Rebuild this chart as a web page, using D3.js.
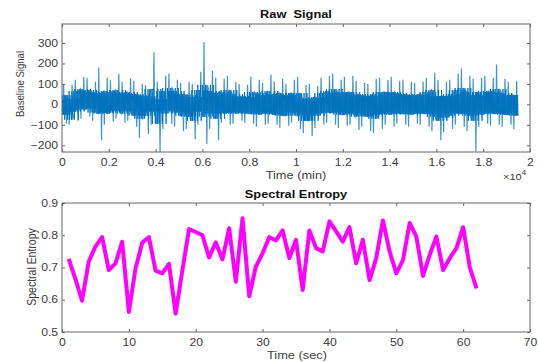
<!DOCTYPE html>
<html>
<head>
<meta charset="utf-8">
<script src="https://cdn.jsdelivr.net/npm/d3@7"></script>
<style>
  body { margin: 0; background: #fff; }
  svg { display: block; font-family: "Liberation Sans", Arial, sans-serif; }
</style>
</head>
<body>
<svg width="538" height="362"></svg>
<script>
// Raw signal, summarised in bins of 250 samples
const binSize = 250;
const sigHi = [100, 95, 120, 135, 130, 110, 180, 130, 120, 150, 110, 125, 115, 100, 95, 255,
  110, 140, 150, 120, 105, 110, 100, 160, 305, 165, 130, 125, 140, 110, 100, 95,
  135, 120, 105, 145, 110, 125, 100, 120, 135, 95, 100, 90, 130, 140, 150, 120,
  135, 140, 115, 105, 100, 125, 130, 120, 135, 115, 120, 110, 105, 110, 130, 155,
  120, 110, 120, 150, 175, 140, 125, 130, 140, 130, 195, 125, 110, 115];
const sigLo = [-95, -100, -80, -70, -60, -80, -175, -100, -85, -70, -90, -80, -110, -165, -145, -100,
  -235, -120, -95, -110, -130, -120, -170, -100, -195, -120, -175, -90, -100, -95, -80, -90,
  -95, -110, -100, -95, -100, -115, -105, -90, -120, -140, -155, -115, -100, -90, -100, -115,
  -105, -100, -125, -110, -130, -140, -120, -100, -110, -95, -100, -110, -95, -100, -110, -130,
  -175, -135, -120, -100, -110, -130, -230, -110, -95, -105, -100, -110, -100, -120];
const coreHi = [45, 25, 65, 75, 70, 60, 55, 65, 60, 70, 55, 60, 50, 45, 40, 75,
  25, 65, 80, 65, 50, 45, 35, 70, 95, 65, 55, 60, 70, 50, 40, 35,
  60, 55, 45, 65, 50, 55, 45, 55, 55, 25, 30, 35, 55, 65, 75, 55,
  60, 60, 50, 45, 40, 50, 60, 60, 60, 55, 50, 45, 45, 50, 60, 70,
  40, 40, 50, 70, 80, 60, 45, 60, 65, 60, 75, 55, 45, 45];
const coreLo = [-50, -75, -35, -25, -20, -40, -45, -45, -40, -30, -45, -35, -55, -70, -55, -35,
  -95, -45, -30, -40, -55, -60, -80, -35, -60, -45, -70, -45, -40, -45, -40, -45,
  -45, -50, -45, -45, -50, -55, -55, -40, -55, -80, -80, -55, -45, -40, -40, -50,
  -50, -45, -60, -55, -60, -70, -50, -45, -50, -45, -45, -50, -45, -45, -45, -60,
  -80, -65, -55, -45, -45, -55, -80, -50, -45, -45, -45, -50, -50, -55];
// flat tail at the end of the recording
const tailT = [19380, 19500];
const tailV = [0, 0];

// Spectral entropy, one value per second
const entropyT = d3.range(1, 63);
const entropyV = [0.727, 0.665, 0.597, 0.718, 0.765, 0.794, 0.692, 0.713, 0.780, 0.562,
  0.697, 0.777, 0.794, 0.690, 0.682, 0.711, 0.557, 0.690, 0.819, 0.810,
  0.800, 0.731, 0.778, 0.725, 0.822, 0.656, 0.853, 0.611, 0.703, 0.744,
  0.794, 0.784, 0.815, 0.729, 0.786, 0.630, 0.815, 0.760, 0.750, 0.843,
  0.812, 0.780, 0.825, 0.713, 0.786, 0.661, 0.729, 0.846, 0.750, 0.682,
  0.723, 0.838, 0.796, 0.674, 0.739, 0.796, 0.692, 0.729, 0.760, 0.825,
  0.700, 0.635];

const topXTicks = [0, 2000, 4000, 6000, 8000, 10000, 12000, 14000, 16000, 18000, 20000];
const topXLabels = ["0", "0.2", "0.4", "0.6", "0.8", "1", "1.2", "1.4", "1.6", "1.8", "2"];
const topYTicks = [-200, -100, 0, 100, 200, 300];
const botXTicks = [0, 10, 20, 30, 40, 50, 60, 70];
const botYTicks = [0.5, 0.6, 0.7, 0.8, 0.9];

const SX = 1.22;          // the picture is stretched sideways
const axisColor = "#666";
const textColor = "#404040";
const blue = "#0072BD";

const svg = d3.select("svg");

function stretchText(sel) {
  sel.attr("transform", function () {
    const t = d3.select(this);
    return `translate(${+t.attr("x") || 0},${+t.attr("y") || 0}) scale(${SX},1)`;
  }).attr("x", 0).attr("y", 0);
}

function drawFrame(x, y, xTicks, yTicks, xFmt, yFmt, xPad) {
  const [x0, x1] = x.range();
  const [y0, y1] = y.range();
  const g = svg.append("g");

  const bottom = g.append("g").attr("transform", `translate(0,${y0})`)
    .call(d3.axisBottom(x).tickValues(xTicks).tickFormat(xFmt).tickSize(-3).tickPadding(xPad));
  const top = g.append("g").attr("transform", `translate(0,${y1})`)
    .call(d3.axisTop(x).tickValues(xTicks).tickFormat("").tickSize(-3));
  const left = g.append("g").attr("transform", `translate(${x0},0)`)
    .call(d3.axisLeft(y).tickValues(yTicks).tickFormat(yFmt).tickSize(-3).tickPadding(3.2));
  const right = g.append("g").attr("transform", `translate(${x1},0)`)
    .call(d3.axisRight(y).tickValues(yTicks).tickFormat("").tickSize(-3));

  [bottom, top, left, right].forEach(a => {
    a.select(".domain").remove();
    a.selectAll("line").attr("stroke", axisColor);
    a.selectAll("text").attr("fill", textColor).style("font-size", "10px");
  });
  left.selectAll(".tick text").attr("transform", `scale(${SX},1)`);
  bottom.selectAll(".tick text").attr("transform", `scale(${SX},1)`);

  g.append("rect")
    .attr("x", x0).attr("y", y1)
    .attr("width", x1 - x0).attr("height", y0 - y1)
    .attr("fill", "none").attr("stroke", axisColor).attr("stroke-width", 1);
  return g;
}

// ---- top panel
const xTop = d3.scaleLinear().domain([0, 20000]).range([62, 530]);
const yTop = d3.scaleLinear().domain([-233, 393]).range([152, 24]);

svg.append("clipPath").attr("id", "clipTop").append("rect")
  .attr("x", 62).attr("y", 24).attr("width", 468).attr("height", 128);

const n = sigHi.length;
const at = (arr, i) => arr[Math.max(0, Math.min(n - 1, i))];
const sig = svg.append("g").attr("clip-path", "url(#clipTop)");
const line = d3.line().x(d => xTop(d[0])).y(d => yTop(d[1]));

// excursions to the bin extremes: lighter, like the thin spikes in the picture
const spikes = [];
for (let i = 0; i < n; i++) {
  const b = i * binSize;
  if (i % 2 === 0) {
    spikes.push([b + 45, coreLo[i]], [b + 70, sigHi[i]], [b + 95, coreLo[i]],
      [b + 165, coreHi[i]], [b + 190, sigLo[i]], [b + 215, coreHi[i]]);
  } else {
    spikes.push([b + 35, coreHi[i]], [b + 60, sigLo[i]], [b + 85, coreHi[i]],
      [b + 155, coreLo[i]], [b + 180, sigHi[i]], [b + 205, coreLo[i]]);
  }
}
sig.append("path").datum(spikes)
  .attr("fill", "none").attr("stroke", blue)
  .attr("stroke-opacity", 0.75).attr("stroke-width", 1.2)
  .attr("d", line);

// dense core: the trace swings between the band limits of this bin and its neighbours
const core = [];
const order = [[coreHi, 0], [coreLo, -1], [coreHi, 1], [coreLo, 0], [coreHi, -1], [coreLo, 1],
  [coreHi, 0], [coreLo, 0], [coreHi, 1], [coreLo, -1], [coreHi, -1], [coreLo, 1]];
for (let i = 0; i < n; i++) {
  order.forEach(([arr, off], j) => {
    core.push([i * binSize + (j + 0.5) * binSize / order.length, at(arr, i + off)]);
  });
}
tailT.forEach((t, k) => core.push([t, tailV[k]]));
sig.append("path").datum(core)
  .attr("fill", "none").attr("stroke", blue)
  .attr("stroke-width", 0.9)
  .attr("d", line);

drawFrame(xTop, yTop, topXTicks, topYTicks, (d, i) => topXLabels[i], d3.format("d"), 7);

svg.append("text").attr("x", 296).attr("y", 18)
  .attr("text-anchor", "middle").style("font-size", "10.5px").style("font-weight", "bold")
  .style("white-space", "pre").attr("fill", "#111")
  .text("Raw  Signal").call(stretchText);

svg.append("text").attr("x", 296).attr("y", 179)
  .attr("text-anchor", "middle").style("font-size", "10.5px").attr("fill", textColor)
  .text("Time (min)").call(stretchText);

svg.append("text")
  .attr("transform", "translate(24,84) rotate(-90) scale(1,1.15)")
  .attr("text-anchor", "middle").style("font-size", "9.6px").attr("fill", textColor)
  .text("Baseline Signal");

const mult = svg.append("text").attr("x", 503).attr("y", 180)
  .style("font-size", "9px").attr("fill", textColor);
mult.append("tspan").text("\u00d710");
mult.append("tspan").attr("dy", -5).style("font-size", "7px").text("4");
mult.call(stretchText);

// ---- bottom panel
const xBot = d3.scaleLinear().domain([0, 70]).range([62, 530]);
const yBot = d3.scaleLinear().domain([0.5, 0.9]).range([332, 203]);

svg.append("path")
  .datum(entropyT.map((t, i) => [t, entropyV[i]]))
  .attr("fill", "none")
  .attr("stroke", "#FF00FF")
  .attr("stroke-width", 4)
  .attr("stroke-linejoin", "round")
  .attr("d", d3.line().x(d => xBot(d[0])).y(d => yBot(d[1])));

drawFrame(xBot, yBot, botXTicks, botYTicks, d3.format("d"), d3.format(".1f"), 6.5);

svg.append("text").attr("x", 296).attr("y", 198)
  .attr("text-anchor", "middle").style("font-size", "10.5px").style("font-weight", "bold")
  .attr("fill", "#111")
  .text("Spectral Entropy").call(stretchText);

svg.append("text").attr("x", 297).attr("y", 359)
  .attr("text-anchor", "middle").style("font-size", "10.5px").attr("fill", textColor)
  .text("Time (sec)").call(stretchText);

svg.append("text")
  .attr("transform", "translate(36,267) rotate(-90) scale(1,1.15)")
  .attr("text-anchor", "middle").style("font-size", "10.5px").attr("fill", textColor)
  .text("Spectral Entropy");
</script>
</body>
</html>
